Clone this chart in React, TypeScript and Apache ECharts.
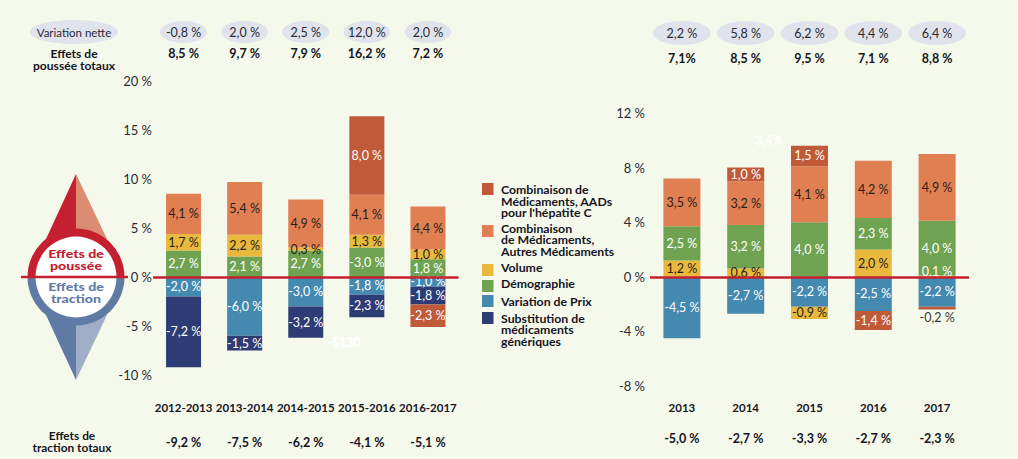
import React, { useEffect, useRef } from "react";
import * as echarts from "echarts";

const FONT = "Lato";
const BG = "#F5F9EB";
const INK = "#15151F";
const LABEL_INK = "#2A1F18";
const RED = "#C4202F";
const C_AAD = "#C05A38";
const C_OTHER = "#E07F52";
const C_VOLUME = "#E8B93C";
const C_DEMO = "#6FA351";
const C_PRICE = "#4489B0";
const C_GENERIC = "#2E3C75";
const C_ELLIPSE = "#E0E3EC";

const N_AAD = "Combinaison de Médicaments, AADs pour l'hépatite C";
const N_OTHER = "Combinaison de Médicaments, Autres Médicaments";
const N_VOLUME = "Volume";
const N_DEMO = "Démographie";
const N_PRICE = "Variation de Prix";
const N_GENERIC = "Substitution de médicaments génériques";

// Left chart
const leftYears = ["2012-2013", "2013-2014", "2014-2015", "2015-2016", "2016-2017"];
const leftDemo = [2.7, 2.1, 2.7, 3.0, 1.8];
const leftVolume = [1.7, 2.2, 0.3, 1.3, 1.0];
const leftOther = [4.1, 5.4, 4.9, 4.1, 4.4];
const leftAAD = [null, null, null, 8.0, -2.3];
const leftPrice = [-2.0, -6.0, -3.0, -1.8, -1.0];
const leftGeneric = [-7.2, -1.5, -3.2, -2.3, -1.8];
const leftNet = ["-0,8 %", "2,0 %", "2,5 %", "12,0 %", "2,0 %"];
const leftPush = ["8,5 %", "9,7 %", "7,9 %", "16,2 %", "7,2 %"];
const leftPull = ["-9,2 %", "-7,5 %", "-6,2 %", "-4,1 %", "-5,1 %"];

// Right chart
const rightYears = ["2013", "2014", "2015", "2016", "2017"];
const rightVolume = [1.2, 0.6, -0.9, 2.0, 0.1];
const rightDemo = [2.5, 3.2, 4.0, 2.3, 4.0];
const rightOther = [3.5, 3.2, 4.1, 4.2, 4.9];
const rightAAD = [null, 1.0, 1.5, -1.4, -0.2];
const rightPrice = [-4.5, -2.7, -2.2, -2.5, -2.2];
const rightNet = ["2,2 %", "5,8 %", "6,2 %", "4,4 %", "6,4 %"];
const rightPush = ["7,1%", "8,5 %", "9,5 %", "7,1 %", "8,8 %"];
const rightPull = ["-5,0 %", "-2,7 %", "-3,3 %", "-2,7 %", "-2,3 %"];

const fmt = (v: number) => `${v.toFixed(1).replace(".", ",")} %`;

type Tweak = { text?: string; color?: string; offset?: number[] };

function barSeries(
  name: string,
  values: (number | null)[],
  color: string,
  labelColor: string,
  axis: number,
  tweaks: Record<number, Tweak> = {},
  barWidth = 35
) {
  return {
    type: "bar",
    name,
    stack: "s" + axis,
    xAxisIndex: axis,
    yAxisIndex: axis,
    barWidth,
    itemStyle: { color },
    data: values.map((v, i) => {
      const t = tweaks[i];
      return {
        value: v,
        label: {
          show: v !== null,
          position: "inside",
          fontFamily: FONT,
          fontSize: 12.5,
          color: t?.color ?? labelColor,
          offset: t?.offset ?? [0, 0],
          formatter: t?.text ?? (v === null ? "" : fmt(v)),
        },
      };
    }),
  };
}

function zeroLine(axis: number) {
  return {
    type: "line",
    xAxisIndex: axis,
    yAxisIndex: axis,
    data: [],
    z: 5,
    markLine: {
      silent: true,
      symbol: "none",
      label: { show: false },
      lineStyle: { color: RED, width: 2.5, type: "solid" },
      data: [{ yAxis: 0 }],
    },
  };
}

function headerSeries(values: string[], axis: number, size: number[]) {
  return {
    type: "scatter",
    xAxisIndex: axis,
    yAxisIndex: axis,
    symbol: "circle",
    symbolSize: size,
    itemStyle: { color: C_ELLIPSE, opacity: 1 },
    data: values.map((v, i) => ({
      value: [i, 0.5],
      label: {
        show: true,
        position: "inside",
        formatter: v,
        fontFamily: FONT,
        fontSize: 12.5,
        color: "#2A2A35",
      },
    })),
  };
}

function textAxis(
  gridIndex: number,
  data: string[],
  position: string,
  offset: number,
  margin: number,
  fontSize = 12.5
) {
  return {
    type: "category",
    gridIndex,
    position,
    offset,
    data,
    axisLine: { show: false, onZero: false },
    axisTick: { show: false },
    splitLine: { show: false },
    axisLabel: {
      interval: 0,
      margin,
      fontFamily: FONT,
      fontWeight: "bold",
      fontSize,
      color: INK,
    },
  };
}

function valueAxis(gridIndex: number, min: number, max: number, interval: number, margin: number) {
  return {
    type: "value",
    gridIndex,
    min,
    max,
    interval,
    splitLine: { show: false },
    axisLine: { show: false },
    axisTick: { show: false },
    axisLabel: {
      margin,
      fontFamily: FONT,
      fontSize: 13,
      color: "#2A2A35",
      formatter: (v: number) => `${v} %`,
    },
  };
}

const hiddenX = (gridIndex: number, data: string[]) => ({
  type: "category",
  gridIndex,
  data,
  show: false,
});
const hiddenY = (gridIndex: number) => ({
  type: "value",
  gridIndex,
  min: 0,
  max: 1,
  show: false,
});

const legendRows = [
  { color: C_AAD, y: 183, textY: 184, text: "Combinaison de\nMédicaments, AADs\npour l'hépatite C" },
  { color: C_OTHER, y: 225, textY: 222.5, text: "Combinaison\nde Médicaments,\nAutres Médicaments" },
  { color: C_VOLUME, y: 264, textY: 261.5, text: "Volume" },
  { color: C_DEMO, y: 280, textY: 277.5, text: "Démographie" },
  { color: C_PRICE, y: 295, textY: 295.5, text: "Variation de Prix" },
  { color: C_GENERIC, y: 312, textY: 312.5, text: "Substitution de\nmédicaments\ngénériques" },
];

function boldText(
  x: number,
  y: number,
  text: string,
  fill: string,
  size: number,
  lineHeight: number,
  align = "center",
  scaleX = 1,
  weight = "bold"
) {
  return {
    type: "text",
    x,
    y,
    scaleX,
    silent: true,
    style: {
      text,
      fill,
      font: `${weight} ${size}px ${FONT}`,
      lineHeight,
      align,
      verticalAlign: "top",
    },
  };
}

const cx = 76;
const cy = 277;

const graphics: any[] = [
  // Left column captions
  { type: "ellipse", shape: { cx: 74, cy: 32, rx: 44, ry: 12 }, style: { fill: C_ELLIPSE } },
  {
    type: "text",
    x: 74,
    y: 32,
    style: { text: "Variation nette", fill: "#2A2A35", font: `11.5px ${FONT}`, align: "center", verticalAlign: "middle" },
  },
  boldText(74, 48, "Effets de\npoussée totaux", INK, 11.5, 12, "center", 1.05),
  boldText(72, 430, "Effets de\ntraction totaux", INK, 11, 11.5, "center", 1.08),

  // Compass
  { type: "polygon", shape: { points: [[cx, 174], [46, 239], [cx, cy]] }, style: { fill: RED } },
  { type: "polygon", shape: { points: [[cx, 174], [107, 239], [cx, cy]] }, style: { fill: "#DB8C73" } },
  { type: "polygon", shape: { points: [[cx, 380], [46, 315], [cx, cy]] }, style: { fill: "#5F7BA5" } },
  { type: "polygon", shape: { points: [[cx, 380], [107, 315], [cx, cy]] }, style: { fill: "#A0AEC8" } },
  { type: "sector", shape: { cx, cy, r: 48.5, r0: 0, startAngle: Math.PI, endAngle: 2 * Math.PI }, style: { fill: RED } },
  { type: "sector", shape: { cx, cy, r: 48.5, r0: 0, startAngle: 0, endAngle: Math.PI }, style: { fill: "#5F7BA5" } },
  { type: "circle", shape: { cx, cy, r: 40.5 }, style: { fill: "#FFFFFF" } },
  boldText(cx, 247, "Effets de\npoussée", RED, 12, 12, "center", 1.18, "900"),
  boldText(cx, 280, "Effets de\ntraction", "#5F7BA5", 12, 12, "center", 1.18, "900"),
  { type: "line", shape: { x1: 21, y1: cy, x2: 128, y2: cy }, style: { stroke: RED, lineWidth: 2.5 } },

  // Faint leftover labels of the source
  {
    type: "text",
    x: 344,
    y: 342,
    style: { text: "-$130", fill: "#FFFFFF", font: `bold 12.5px ${FONT}`, align: "center", verticalAlign: "middle" },
  },
  {
    type: "text",
    x: 769,
    y: 140,
    style: { text: "3,4%", fill: "#FFFFFF", font: `bold 12.5px ${FONT}`, align: "center", verticalAlign: "middle" },
  },

  // Legend
  ...legendRows.flatMap((r) => [
    { type: "rect", shape: { x: 482, y: r.y, width: 11.5, height: 12 }, style: { fill: r.color } },
    boldText(501, r.textY, r.text, INK, 11.5, 11.5, "left", 1.07),
  ]),
];

export default function App() {
  const ref = useRef<HTMLDivElement>(null);
  useEffect(() => {
    document.body.style.margin = "0";
    document.body.style.background = BG;
    const chart = echarts.init(ref.current!, undefined, { renderer: "svg" });
    chart.setOption({
      animation: false,
      backgroundColor: BG,
      grid: [
        { left: 153, top: 81, width: 305.5, height: 294 },
        { left: 650, top: 113, width: 319, height: 273 },
        { left: 153, top: 17, width: 305.5, height: 30 },
        { left: 650, top: 18, width: 319, height: 30 },
      ],
      xAxis: [
        textAxis(0, leftYears, "bottom", 0, 26, 11.5),
        textAxis(1, rightYears, "bottom", 0, 15, 11.5),
        hiddenX(2, leftYears),
        hiddenX(3, rightYears),
        textAxis(0, leftPush, "top", 21, 0),
        textAxis(0, leftPull, "bottom", 61, 0),
        textAxis(1, rightPush, "top", 48, 0),
        textAxis(1, rightPull, "bottom", 46, 0),
      ],
      yAxis: [
        valueAxis(0, -10, 20, 5, 1),
        valueAxis(1, -8, 12, 4, 5),
        hiddenY(2),
        hiddenY(3),
      ],
      series: [
        barSeries(N_PRICE, leftPrice, C_PRICE, "#FFFFFF", 0),
        barSeries(N_GENERIC, leftGeneric, C_GENERIC, "#FFFFFF", 0),
        barSeries(N_DEMO, leftDemo, C_DEMO, "#FFFFFF", 0, { 3: { text: "-3,0 %" } }),
        barSeries(N_VOLUME, leftVolume, C_VOLUME, LABEL_INK, 0),
        barSeries(N_OTHER, leftOther, C_OTHER, LABEL_INK, 0),
        barSeries(N_AAD, leftAAD, C_AAD, "#FFFFFF", 0),
        zeroLine(0),
        barSeries(N_PRICE, rightPrice, C_PRICE, "#FFFFFF", 1, {}, 37),
        barSeries(N_VOLUME, rightVolume, C_VOLUME, LABEL_INK, 1, { 4: { color: "#FFFFFF", offset: [0, -5] } }, 37),
        barSeries(N_DEMO, rightDemo, C_DEMO, "#FFFFFF", 1, {}, 37),
        barSeries(N_OTHER, rightOther, C_OTHER, LABEL_INK, 1, {}, 37),
        barSeries(N_AAD, rightAAD, C_AAD, "#FFFFFF", 1, { 4: { color: "#3A3A3A", offset: [0, 9] } }, 37),
        zeroLine(1),
        headerSeries(leftNet, 2, [47, 22]),
        headerSeries(rightNet, 3, [58, 24]),
      ],
      graphic: graphics,
    });
    return () => chart.dispose();
  }, []);
  return <div ref={ref} style={{ width: 1018, height: 459 }} />;
}
